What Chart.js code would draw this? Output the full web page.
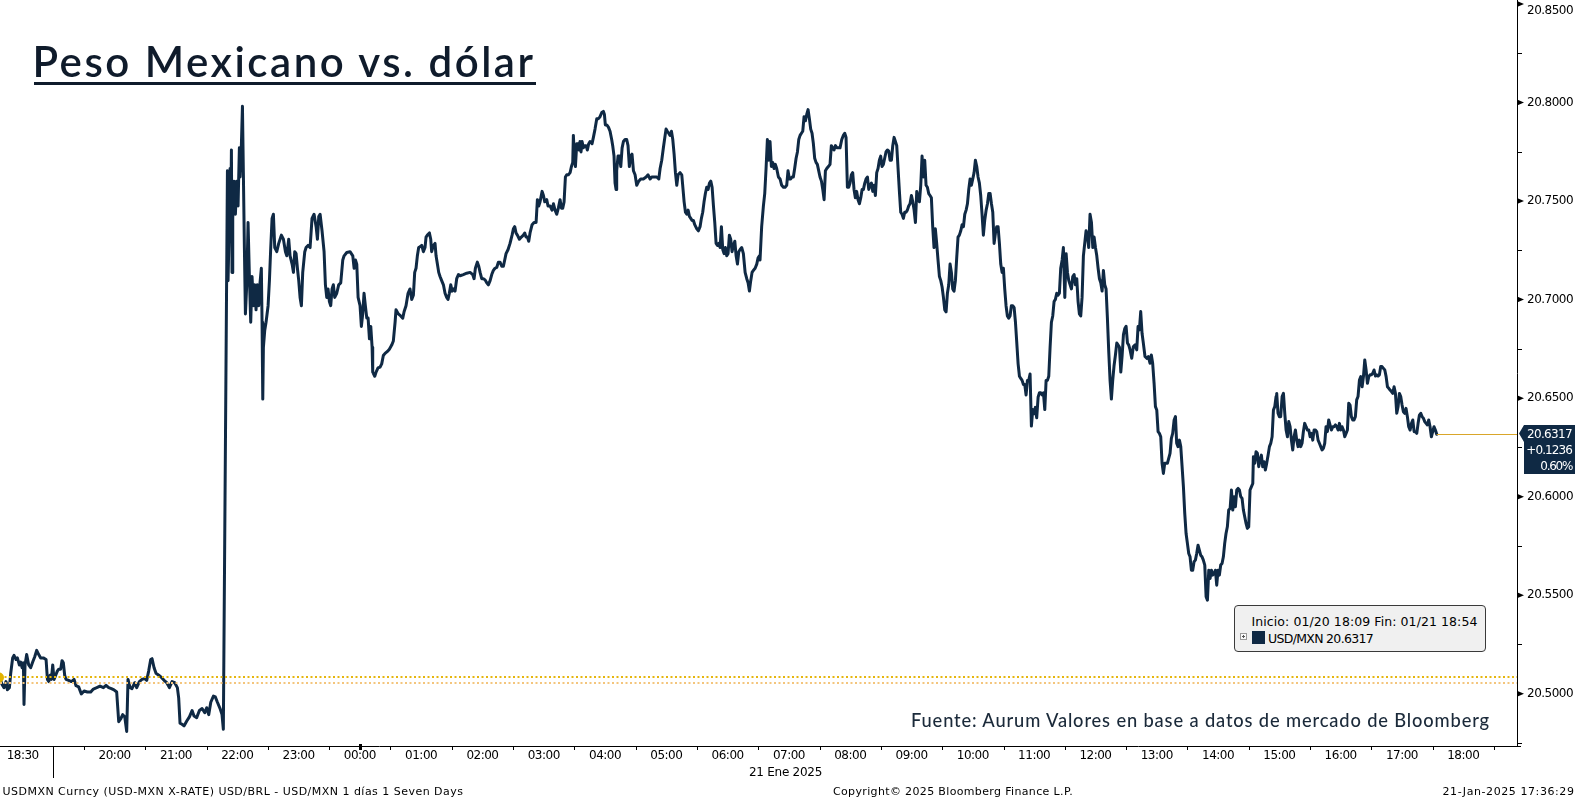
<!DOCTYPE html>
<html>
<head>
<meta charset="utf-8">
<title>Peso Mexicano vs. dólar</title>
<script src="https://cdn.jsdelivr.net/npm/chart.js@4.4.1/dist/chart.umd.min.js"></script>
<style>
html,body{margin:0;padding:0;background:#fff;overflow:hidden;}
#wrap{position:relative;width:1576px;height:798px;background:#fff;}
#c{position:absolute;left:0;top:0;}
.t{position:absolute;white-space:nowrap;line-height:1;margin:0;padding:0;}
#title{font-family:"Lato","Noto Sans",sans-serif;font-weight:600;font-size:42px;color:#0f1b2b;}
#uline{position:absolute;left:34px;top:81.5px;width:502px;height:3px;background:#0f1b2b;}
#fuente{font-family:"Lato","Noto Sans",sans-serif;font-weight:500;font-size:18.3px;color:#1b2a3a;}
.bb{font-family:"DejaVu Sans","Liberation Sans",sans-serif;color:#000;}
#legend{position:absolute;left:1234px;top:605px;width:250px;height:45px;border:1px solid #3a3a3a;border-radius:4px;background:#f0f0f0;}
#lgplus{position:absolute;left:1240px;top:633px;width:5px;height:5px;border:1px solid #9a9a9a;background:#fafafa;}
#lgplus:before{content:"";position:absolute;left:1px;top:2px;width:3px;height:1px;background:#555;}
#lgplus:after{content:"";position:absolute;left:2px;top:1px;width:1px;height:3px;background:#555;}
#lgsq{position:absolute;left:1252px;top:631px;width:13px;height:13px;background:#0f2944;}
#pricebox{position:absolute;left:1519px;width:56px;height:49px;background:#0f2944;
  clip-path:polygon(5px 0,56px 0,56px 49px,5px 49px,5px 17px,0 8.5px);}
.pl{color:#fff;}
</style>
</head>
<body>
<div id="wrap">
  <canvas id="c" width="1576" height="798"></canvas>
  <div id="title" class="t">Peso Mexicano vs. dólar</div>
  <div id="uline"></div>
  <div id="fuente" class="t">Fuente: Aurum Valores en base a datos de mercado de Bloomberg</div>
  <div id="legend"></div>
  <div id="lg1" class="t bb" style="font-size:12.5px">Inicio: 01/20 18:09 Fin: 01/21 18:54</div>
  <div id="lgplus"></div>
  <div id="lgsq"></div>
  <div id="lg2" class="t bb" style="font-size:12.5px"></div>
  <div id="pricebox"></div>
  <div id="p1" class="t bb pl" style="font-size:12px"></div>
  <div id="p2" class="t bb pl" style="font-size:12px"></div>
  <div id="p3" class="t bb pl" style="font-size:12px"></div>
  <div id="date2" class="t bb" style="font-size:12px">21 Ene 2025</div>
  <div id="foot1" class="t bb" style="font-size:11px">USDMXN Curncy (USD-MXN X-RATE) USD/BRL - USD/MXN 1 días 1 Seven Days</div>
  <div id="foot2" class="t bb" style="font-size:11px">Copyright© 2025 Bloomberg Finance L.P.</div>
  <div id="foot3" class="t bb" style="font-size:11px">21-Jan-2025 17:36:29</div>
</div>
<script>
// ---------------- DATA ----------------
// Time axis: minutes after 18:00 on 20 Jan 2025 (1440 = 18:00 on 21 Jan)
const times = [
7.8,9.8,11.7,13.7,15.0,17.0,18.3,20.2,21.5,23.5,
24.8,26.8,28.1,29.4,30.7,31.3,32.3,33.9,35.9,37.8,
39.8,41.8,43.7,45.7,47.6,50.2,52.9,54.2,55.5,56.8,
58.1,59.4,60.7,62.6,63.9,65.3,67.2,68.5,69.8,71.1,
72.4,75.0,77.7,80.3,82.2,84.8,87.4,90.1,93.3,96.6,
99.2,102.5,105.7,109.0,111.6,114.2,116.8,119.4,122.0,124.0,
125.9,127.9,129.9,131.8,133.1,135.1,137.0,139.7,141.6,144.2,
146.8,149.4,151.4,153.3,155.3,156.6,158.6,160.5,163.2,165.8,
168.4,171.0,173.6,176.2,178.8,181.4,182.7,184.0,186.0,187.9,
190.6,193.2,195.8,197.7,200.3,203.0,205.6,208.2,210.1,212.1,
214.1,216.7,218.6,220.6,223.2,225.1,226.4,
230.4,231.0,232.3,233.0,233.6,234.3,234.9,235.6,236.9,238.2,
239.5,240.8,242.1,242.8,244.1,245.1,246.0,247.0,248.0,249.3,
250.6,251.9,253.2,254.5,255.8,257.1,258.4,259.7,261.0,262.3,
263.6,264.3,265.0,265.6,266.9,268.2,270.2,271.5,272.8,274.1,
275.4,276.7,278.7,280.6,283.2,285.2,287.2,288.5,290.4,291.7,
293.7,295.0,296.3,297.6,298.9,300.2,301.5,302.8,304.1,306.1,
307.4,309.3,311.3,313.2,315.2,317.2,318.5,319.8,321.1,323.0,
325.0,326.3,327.6,328.9,330.2,331.5,332.8,334.1,335.4,337.4,
339.3,341.3,343.3,344.6,347.2,350.4,353.1,354.4,355.7,357.0,
358.3,360.2,361.5,362.8,364.1,365.4,366.8,368.1,369.4,370.7,
372.0,372.6,374.6,375.9,377.8,
379.8,381.4,383.0,384.7,387.0,388.9,391.2,392.8,394.5,395.4,
397.7,400.0,402.0,403.3,405.2,407.2,409.1,410.8,412.4,413.7,
415.0,416.3,417.6,418.9,420.6,422.2,423.8,424.8,426.1,428.1,
429.4,430.3,432.0,433.6,434.6,435.9,437.2,438.5,440.1,441.8,
443.4,445.0,446.3,447.6,449.0,450.3,451.6,453.2,454.8,456.5,
458.1,461.3,464.6,467.9,470.5,471.8,473.1,475.0,476.4,477.7,
479.3,480.9,482.6,484.2,485.8,487.5,489.1,490.7,492.3,494.0,
495.6,497.2,498.9,500.5,501.8,503.1,505.1,507.0,509.0,510.3,
511.6,512.9,514.2,516.2,518.1,520.1,521.4,522.7,524.0,525.3,
526.6,528.6,530.5,532.5,533.8,535.1,536.4,538.4,539.7,541.0,
542.9,544.2,546.2,548.1,549.5,551.1,552.7,554.3,556.0,557.3,
558.6,559.9,561.2,562.5,564.1,565.8,567.1,568.4,569.0,570.0,
571.0,572.3,573.6,574.6,575.5,576.5,577.5,578.8,580.1,581.4,
582.7,584.0,585.3,587.3,588.6,590.2,591.9,593.5,595.1,596.8,
598.4,599.4,600.3,601.7,603.3,604.9,606.5,607.5,608.8,609.8,
610.8,611.4,612.7,614.1,615.4,616.7,618.0,619.6,621.2,622.5,
623.8,625.1,626.4,627.8,629.4,631.0,633.0,634.9,637.5,640.2,
642.1,644.1,645.7,648.0,650.6,652.6,653.9,655.5,657.1,658.8,
659.7,661.0,662.3,663.6,665.0,666.3,667.6,668.9,670.2,671.5,
673.4,675.1,676.0,677.4,678.7,680.0,681.3,682.6,683.9,685.2,
686.5,687.8,689.8,691.4,693.0,694.3,695.6,696.9,698.2,699.5,
700.9,702.2,703.5,704.8,706.1,707.4,708.7,710.0,711.3,712.6,
713.9,715.2,716.5,717.8,719.1,720.4,721.7,723.0,724.3,725.6,
727.0,728.3,729.6,730.9,732.2,733.8,735.4,737.1,738.7,740.0,
741.3,742.6,743.9,745.2,746.9,748.5,749.8,751.1,
751.7,753.3,755.0,756.3,757.6,758.9,760.2,761.5,762.8,764.1,
765.4,766.7,768.0,769.7,771.3,772.9,774.6,776.2,777.8,779.1,
780.4,781.7,783.0,784.3,785.6,787.0,788.3,789.6,790.9,792.2,
793.5,794.8,796.1,797.4,798.7,800.0,801.3,802.6,803.9,805.2,
806.5,807.8,809.1,810.4,811.8,813.1,814.4,815.7,817.0,818.6,
820.2,821.5,822.8,824.1,825.5,826.8,828.4,830.0,831.7,833.3,
834.6,835.9,837.2,838.5,839.8,841.1,842.4,843.7,845.0,846.3,
847.6,849.0,850.3,851.6,852.9,854.2,855.5,856.8,858.1,859.4,
860.7,862.0,863.3,864.6,865.9,867.2,868.5,869.8,871.1,872.4,
873.7,875.0,876.4,877.7,879.0,880.3,881.6,882.9,884.2,885.5,
886.8,888.1,889.4,890.7,892.0,893.3,894.6,895.9,897.2,898.5,
899.9,901.2,902.5,903.8,905.1,906.4,907.7,909.0,910.3,911.6,
912.9,914.2,915.5,916.8,918.1,919.4,920.7,922.0,923.3,924.6,
925.9,927.3,928.6,929.9,931.2,932.5,933.8,935.1,936.4,937.7,
939.0,940.3,941.6,942.9,944.2,945.5,946.8,948.2,949.5,950.8,
952.1,953.4,954.7,956.0,957.3,958.6,959.9,961.2,962.5,963.8,
965.1,966.4,967.7,969.0,970.3,971.6,973.0,974.3,975.6,976.9,
978.2,979.5,980.8,982.1,983.4,984.7,986.0,987.3,988.6,989.9,
991.2,992.5,993.8,995.1,996.4,997.7,999.0,1000.4,1001.7,1003.0,
1004.3,1005.6,1006.9,1008.2,1009.5,1010.8,1012.1,1013.4,1014.7,1016.0,
1017.3,1018.6,1019.9,1021.2,1022.5,1023.9,1025.2,1026.5,1027.8,1029.1,
1030.4,1031.7,1033.0,1034.3,1035.6,1036.9,1038.2,1039.5,1040.8,1042.1,
1043.4,1044.7,1046.0,1047.4,1048.6,1050.0,1051.3,1052.6,1053.9,1055.2,
1056.5,1057.8,1059.1,1060.4,1061.7,1063.0,1064.3,1065.6,1066.9,1068.2,
1069.5,1070.8,1072.1,1073.4,1074.7,1076.1,1077.4,1078.7,1080.0,1081.3,
1082.6,1083.9,1085.2,1086.5,1087.8,1089.1,1090.4,1091.7,1093.0,1094.3,
1095.6,1096.9,1098.2,1099.5,1100.9,1102.2,1103.5,1104.8,1106.1,1107.4,
1108.7,1110.0,1111.3,1112.6,
1113.9,1115.5,1117.1,1118.8,1120.4,1121.7,1123.0,1124.3,1125.6,1126.9,
1128.5,1130.2,1131.8,1133.4,1134.7,1136.0,1137.4,1138.7,1140.0,1141.3,
1142.6,1143.9,1145.2,1146.5,1147.8,1149.1,1150.4,1151.7,1153.0,1154.3,
1155.6,1157.0,1158.3,1159.5,1160.8,1162.2,1163.5,1164.8,1166.1,1167.4,
1168.7,1170.0,1171.3,1172.6,1173.9,1175.2,1176.5,1177.8,1179.1,1180.4,
1181.7,1183.0,1184.3,1185.6,1187.0,1188.3,1189.6,1190.9,1192.2,1193.5,
1194.8,1196.1,1197.4,1198.7,1200.0,1201.3,1202.6,1203.9,1205.2,1206.5,
1207.8,1209.1,1210.4,1211.8,1213.1,1214.4,1215.7,1217.0,1218.3,1219.6,
1220.9,1222.2,1223.5,1224.8,1226.1,1227.4,1228.7,1230.0,1231.3,1232.6,
1234.0,1234.6,1235.9,1237.2,1238.5,1239.8,1241.1,1242.4,1243.7,1245.0,
1246.3,1247.6,1249.0,1250.3,1251.6,1252.9,1254.2,1255.5,1256.8,1257.4,
1258.7,1260.0,1261.3,1262.7,1264.0,1265.3,1266.6,1267.9,1269.2,1270.5,
1271.8,1273.1,1274.4,1275.7,1277.0,1278.3,1279.6,1280.9,1282.2,1283.5,
1284.8,1286.1,1287.5,1288.8,1290.1,1291.4,1292.7,1294.0,1295.3,1296.6,
1297.9,1299.2,1300.5,1301.8,1303.1,1304.4,1305.7,1307.0,1308.3,1309.6,
1311.0,1312.3,1313.6,1314.9,1316.2,1317.5,1318.8,1320.1,1321.4,1322.7,
1324.0,1325.3,1326.6,1327.9,1329.2,1330.5,1331.8,1333.1,1334.4,1335.7,
1337.0,1338.4,1339.7,1341.0,1342.3,1343.6,1344.9,1346.2,1347.5,1348.8,
1350.1,1351.4,1352.7,1354.0,1355.3,1356.6,1357.9,1359.2,1360.5,1361.9,
1363.2,1364.5,1365.8,1367.1,1368.4,1369.7,1371.0,1372.3,1373.6,1374.9,
1376.2,1377.5,1378.8,1380.1,1381.4,1382.7,1384.0,1385.3,1386.6,1388.0,
1389.3,1390.6,1391.9,1393.2,1394.5,1395.8,1397.1,1398.4,1399.7,1401.0,
1402.3,1403.6,1404.9,1406.2,1407.5,1408.8,1410.1,1411.4,1412.7,1414.0
];

// USD/MXN exchange rate
const usdmxn = [
20.5077,20.5047,20.5031,20.5062,20.5020,20.5031,20.5104,20.5182,20.5195,20.5174,
20.5182,20.5146,20.5161,20.5132,20.5157,20.4946,20.5146,20.5199,20.5146,20.5132,
20.5161,20.5188,20.5220,20.5199,20.5182,20.5182,20.5174,20.5073,20.5062,20.5094,
20.5073,20.5146,20.5073,20.5098,20.5115,20.5125,20.5125,20.5168,20.5157,20.5094,
20.5073,20.5068,20.5062,20.5073,20.5041,20.5035,20.4999,20.5014,20.5009,20.5009,
20.5024,20.5031,20.5039,20.5031,20.5043,20.5031,20.5026,20.5020,20.5009,20.4858,
20.4872,20.4894,20.4883,20.4809,20.5073,20.5031,20.5026,20.5056,20.5031,20.5062,
20.5073,20.5077,20.5068,20.5115,20.5174,20.5178,20.5132,20.5104,20.5094,20.5083,
20.5068,20.5056,20.5031,20.5062,20.5056,20.5031,20.4978,20.4851,20.4845,20.4837,
20.4862,20.4883,20.4915,20.4887,20.4879,20.4915,20.4925,20.4904,20.4929,20.4894,
20.4957,20.4988,20.4984,20.4957,20.4925,20.4894,20.4820,
20.7654,20.7096,20.7412,20.7665,20.7391,20.7759,20.7138,20.7412,20.7601,20.7433,
20.7601,20.7475,20.7770,20.7622,20.7791,20.7981,20.7644,20.7264,20.6927,20.7075,
20.7391,20.7117,20.6885,20.7117,20.6969,20.7075,20.6948,20.7075,20.6969,20.7085,
20.7159,20.6885,20.6495,20.6758,20.6843,20.6885,20.6969,20.7096,20.7264,20.7412,
20.7433,20.7264,20.7243,20.7285,20.7327,20.7306,20.7243,20.7222,20.7306,20.7222,
20.7180,20.7138,20.7243,20.7233,20.7159,20.7096,20.7011,20.6969,20.7138,20.7243,
20.7264,20.7275,20.7264,20.7412,20.7433,20.7370,20.7306,20.7422,20.7433,20.7349,
20.7243,20.7075,20.7011,20.7054,20.6990,20.6969,20.7054,20.7075,20.7011,20.7032,
20.7075,20.7085,20.7201,20.7222,20.7239,20.7243,20.7222,20.7159,20.7201,20.7180,
20.7011,20.6969,20.6864,20.6927,20.7032,20.6969,20.6906,20.6906,20.6801,20.6864,
20.6758,20.6632,20.6611,20.6632,20.6653,
20.6657,20.6674,20.6716,20.6727,20.6737,20.6748,20.6769,20.6790,20.6885,20.6948,
20.6927,20.6917,20.6906,20.6938,20.6969,20.7032,20.7054,20.7001,20.7022,20.7138,
20.7159,20.7222,20.7264,20.7268,20.7275,20.7243,20.7264,20.7317,20.7327,20.7338,
20.7306,20.7243,20.7275,20.7285,20.7222,20.7180,20.7138,20.7117,20.7096,20.7075,
20.7032,20.7011,20.7001,20.7032,20.7075,20.7043,20.7054,20.7043,20.7106,20.7127,
20.7121,20.7127,20.7134,20.7138,20.7127,20.7106,20.7159,20.7190,20.7169,20.7138,
20.7106,20.7106,20.7100,20.7085,20.7075,20.7096,20.7127,20.7148,20.7159,20.7163,
20.7190,20.7190,20.7169,20.7169,20.7201,20.7233,20.7254,20.7285,20.7327,20.7359,
20.7370,20.7338,20.7327,20.7306,20.7317,20.7327,20.7338,20.7317,20.7317,20.7296,
20.7338,20.7380,20.7391,20.7391,20.7507,20.7475,20.7496,20.7549,20.7528,20.7496,
20.7507,20.7475,20.7475,20.7454,20.7486,20.7454,20.7433,20.7464,20.7507,20.7464,
20.7464,20.7496,20.7622,20.7633,20.7633,20.7644,20.7675,20.7696,20.7833,20.7717,
20.7675,20.7791,20.7791,20.7759,20.7802,20.7749,20.7802,20.7770,20.7781,20.7781,
20.7759,20.7791,20.7802,20.7791,20.7823,20.7865,20.7918,20.7918,20.7928,20.7949,
20.7955,20.7939,20.7886,20.7886,20.7875,20.7854,20.7812,20.7781,20.7728,20.7591,
20.7559,20.7654,20.7728,20.7728,20.7675,20.7770,20.7802,20.7812,20.7812,20.7781,
20.7675,20.7728,20.7738,20.7654,20.7633,20.7580,20.7601,20.7612,20.7612,20.7622,
20.7633,20.7612,20.7622,20.7622,20.7622,20.7612,20.7665,20.7707,20.7770,20.7833,
20.7865,20.7854,20.7844,20.7833,20.7854,20.7812,20.7738,20.7644,20.7580,20.7633,
20.7644,20.7633,20.7580,20.7496,20.7443,20.7433,20.7454,20.7422,20.7412,20.7401,
20.7401,20.7380,20.7359,20.7349,20.7370,20.7412,20.7443,20.7496,20.7538,20.7570,
20.7559,20.7591,20.7601,20.7570,20.7475,20.7391,20.7285,20.7275,20.7285,20.7264,
20.7370,20.7254,20.7233,20.7264,20.7222,20.7233,20.7327,20.7306,20.7243,20.7275,
20.7296,20.7222,20.7180,20.7243,20.7254,20.7264,20.7233,20.7138,20.7106,20.7085,
20.7043,20.7096,20.7138,20.7148,20.7159,20.7180,20.7212,20.7222,
20.7201,20.7370,20.7475,20.7538,20.7665,20.7812,20.7707,20.7802,20.7675,20.7696,
20.7665,20.7686,20.7665,20.7622,20.7612,20.7580,20.7570,20.7570,20.7580,20.7654,
20.7612,20.7612,20.7622,20.7622,20.7665,20.7717,20.7749,20.7812,20.7833,20.7844,
20.7854,20.7928,20.7907,20.7939,20.7964,20.7918,20.7865,20.7844,20.7791,20.7717,
20.7696,20.7686,20.7654,20.7622,20.7601,20.7559,20.7507,20.7654,20.7665,20.7675,
20.7686,20.7781,20.7770,20.7759,20.7781,20.7770,20.7770,20.7770,20.7812,20.7833,
20.7844,20.7823,20.7570,20.7570,20.7591,20.7633,20.7644,20.7559,20.7517,20.7549,
20.7507,20.7486,20.7517,20.7559,20.7559,20.7591,20.7612,20.7622,20.7559,20.7580,
20.7591,20.7549,20.7580,20.7528,20.7644,20.7665,20.7707,20.7728,20.7675,20.7686,
20.7717,20.7749,20.7759,20.7753,20.7707,20.7707,20.7781,20.7823,20.7802,20.7781,
20.7665,20.7549,20.7443,20.7433,20.7412,20.7443,20.7443,20.7454,20.7475,20.7486,
20.7528,20.7496,20.7454,20.7391,20.7549,20.7517,20.7496,20.7580,20.7728,20.7622,
20.7707,20.7580,20.7570,20.7538,20.7528,20.7517,20.7370,20.7264,20.7359,20.7285,
20.7201,20.7117,20.7096,20.7064,20.7011,20.6948,20.6938,20.7032,20.7075,20.7180,
20.7138,20.7054,20.7043,20.7096,20.7212,20.7317,20.7327,20.7349,20.7380,20.7370,
20.7433,20.7454,20.7486,20.7559,20.7612,20.7580,20.7612,20.7644,20.7707,20.7675,
20.7622,20.7591,20.7528,20.7433,20.7327,20.7401,20.7454,20.7486,20.7538,20.7538,
20.7486,20.7443,20.7285,20.7338,20.7370,20.7370,20.7285,20.7180,20.7138,20.7159,
20.7054,20.6969,20.6917,20.6906,20.6917,20.6969,20.6969,20.6959,20.6885,20.6780,
20.6674,20.6611,20.6600,20.6590,20.6569,20.6569,20.6516,20.6590,20.6590,20.6622,
20.6358,20.6442,20.6421,20.6453,20.6400,20.6506,20.6527,20.6527,20.6516,20.6527,
20.6442,20.6590,20.6590,20.6611,20.6758,20.6885,20.6917,20.6990,20.7001,20.7032,
20.7022,20.7032,20.7159,20.7201,20.7264,20.7011,20.7233,20.7138,20.7096,20.7075,
20.7054,20.7117,20.7127,20.7075,20.7106,20.6990,20.6927,20.6917,20.7011,20.7222,
20.7285,20.7349,20.7327,20.7264,20.7433,20.7391,20.7264,20.7317,20.7264,20.7222,
20.7159,20.7106,20.7085,20.7043,20.7148,20.7075,20.7054,20.6906,20.6737,20.6590,
20.6495,20.6590,20.6664,20.6716,20.6780,20.6769,20.6758,20.6632,20.6716,20.6822,
20.6853,20.6864,20.6780,20.6769,
20.6745,20.6702,20.6762,20.6770,20.6745,20.6863,20.6846,20.6939,20.6829,20.6778,
20.6711,20.6702,20.6711,20.6677,20.6719,20.6677,20.6575,20.6457,20.6440,20.6330,
20.6321,20.6304,20.6169,20.6118,20.6169,20.6169,20.6169,20.6194,20.6220,20.6296,
20.6321,20.6389,20.6406,20.6271,20.6254,20.6287,20.6254,20.6152,20.6050,20.5915,
20.5813,20.5763,20.5712,20.5695,20.5627,20.5627,20.5670,20.5678,20.5712,20.5754,
20.5729,20.5703,20.5695,20.5678,20.5653,20.5492,20.5475,20.5627,20.5585,20.5627,
20.5602,20.5610,20.5627,20.5551,20.5627,20.5602,20.5653,20.5661,20.5695,20.5763,
20.5813,20.5847,20.5932,20.5940,20.6034,20.5932,20.6000,20.5949,20.6034,20.6042,
20.6034,20.6000,20.5991,20.5932,20.5898,20.5864,20.5839,20.5847,20.6034,20.6050,
20.6067,20.6203,20.6169,20.6228,20.6220,20.6152,20.6186,20.6211,20.6152,20.6177,
20.6135,20.6169,20.6211,20.6254,20.6271,20.6304,20.6440,20.6457,20.6508,20.6524,
20.6423,20.6406,20.6406,20.6508,20.6524,20.6423,20.6338,20.6304,20.6381,20.6355,
20.6287,20.6237,20.6304,20.6338,20.6287,20.6254,20.6287,20.6254,20.6271,20.6330,
20.6372,20.6355,20.6338,20.6338,20.6304,20.6321,20.6287,20.6338,20.6338,20.6330,
20.6287,20.6271,20.6254,20.6237,20.6245,20.6271,20.6355,20.6330,20.6389,20.6364,
20.6338,20.6355,20.6355,20.6364,20.6355,20.6338,20.6372,20.6338,20.6355,20.6338,
20.6304,20.6321,20.6338,20.6474,20.6465,20.6406,20.6389,20.6389,20.6406,20.6491,
20.6508,20.6592,20.6609,20.6558,20.6609,20.6694,20.6643,20.6575,20.6609,20.6618,
20.6618,20.6626,20.6643,20.6612,20.6618,20.6612,20.6618,20.6660,20.6660,20.6651,
20.6643,20.6609,20.6558,20.6550,20.6541,20.6533,20.6524,20.6558,20.6524,20.6423,
20.6457,20.6524,20.6508,20.6465,20.6431,20.6423,20.6448,20.6406,20.6355,20.6338,
20.6372,20.6389,20.6330,20.6330,20.6321,20.6372,20.6414,20.6423,20.6406,20.6398,
20.6381,20.6372,20.6364,20.6389,20.6355,20.6304,20.6330,20.6355,20.6338,20.6317
];

// Axis ranges
const xRange = [7.8, 1492.6];          // 18:08 (20 Jan) .. 18:54 (21 Jan)
const yRange = [20.4735, 20.852];
// Tick positions and labels
const xTickMinutes = [30,120,180,240,300,360,420,480,540,600,660,720,780,840,900,960,1020,1080,1140,1200,1260,1320,1380,1440];
const xTickLabels  = ['18:30','20:00','21:00','22:00','23:00','00:00','01:00','02:00','03:00','04:00','05:00','06:00','07:00','08:00','09:00','10:00','11:00','12:00','13:00','14:00','15:00','16:00','17:00','18:00'];
const xMinorMinutes = [90,150,210,270,330,390,450,510,570,630,690,750,810,870,930,990,1050,1110,1170,1230,1290,1350,1410,1470];
const midnightMinute = 360;
const sessionBreakMinute = 60;
const yTickValues  = [20.50,20.55,20.60,20.65,20.70,20.75,20.80,20.85];
const yMinorValues = [20.475,20.525,20.575,20.625,20.675,20.725,20.775,20.825];
// Reference levels and last-price info
const refLevels = [20.5083, 20.5053];
const refColors = ['#e6b60e', '#f4c57c'];
const lastPrice = 20.6317, netChange = 0.1236, pctChange = 0.60;

const LINE_COLOR = '#0f2944';

// ---------------- CHART ----------------
const decor = {
  id: 'decor',
  beforeDraw(chart) {
    if ('letterSpacing' in chart.ctx) chart.ctx.letterSpacing = '-0.5px';
  },
  afterDatasetsDraw(chart) {
    const {ctx, chartArea: a, scales: {x, y}} = chart;
    ctx.save();
    refLevels.forEach((lv, i) => {
      const py = Math.round(y.getPixelForValue(lv));
      ctx.strokeStyle = refColors[i];
      ctx.lineWidth = 2;
      ctx.setLineDash([2, 2.5]);
      ctx.beginPath(); ctx.moveTo(a.left, py); ctx.lineTo(a.right, py); ctx.stroke();
    });
    ctx.setLineDash([]);
    const ly = Math.round(y.getPixelForValue(lastPrice)) + 0.5;
    const lx = x.getPixelForValue(times[times.length - 1]);
    ctx.strokeStyle = '#d9a62a'; ctx.lineWidth = 1;
    ctx.beginPath(); ctx.moveTo(lx, ly); ctx.lineTo(a.right, ly); ctx.stroke();
    ctx.fillStyle = '#e2b300';
    ctx.beginPath(); ctx.arc(a.left - 1, y.getPixelForValue(refLevels[0]), 5, 0, Math.PI * 2); ctx.fill();
    ctx.restore();
  },
  afterDraw(chart) {
    const {ctx, chartArea: a, scales: {x, y}} = chart;
    ctx.save();
    ctx.fillStyle = '#000'; ctx.strokeStyle = '#000'; ctx.lineWidth = 1;
    yTickValues.forEach(v => {
      const py = y.getPixelForValue(v);
      ctx.beginPath();
      ctx.moveTo(a.right, py - 3); ctx.lineTo(a.right + 7, py); ctx.lineTo(a.right, py + 3);
      ctx.closePath(); ctx.fill();
    });
    yMinorValues.forEach(v => {
      const py = Math.round(y.getPixelForValue(v)) + 0.5;
      ctx.beginPath(); ctx.moveTo(a.right, py); ctx.lineTo(a.right + 5, py); ctx.stroke();
    });
    xMinorMinutes.forEach(m => {
      const px = Math.round(x.getPixelForValue(m)) + 0.5;
      ctx.beginPath(); ctx.moveTo(px, a.bottom); ctx.lineTo(px, a.bottom + 4); ctx.stroke();
    });
    const mx = Math.round(x.getPixelForValue(midnightMinute));
    ctx.fillRect(mx - 1, a.bottom - 2, 3, 6);
    const sx = Math.round(x.getPixelForValue(sessionBreakMinute)) + 0.5;
    ctx.beginPath(); ctx.moveTo(sx, a.bottom); ctx.lineTo(sx, a.bottom + 32); ctx.stroke();
    ctx.beginPath(); ctx.moveTo(a.right, a.bottom + 0.5); ctx.lineTo(a.right + 4, a.bottom + 0.5); ctx.stroke();
    ctx.restore();
  }
};

const chart = new Chart(document.getElementById('c'), {
  type: 'line',
  data: {
    datasets: [{
      label: 'USD/MXN',
      data: times.map((t, i) => ({x: t, y: usdmxn[i]})),
      borderColor: LINE_COLOR,
      borderWidth: 3,
      pointRadius: 0,
      tension: 0,
      borderJoinStyle: 'round',
      borderCapStyle: 'round',
      fill: false
    }]
  },
  options: {
    responsive: false,
    animation: false,
    devicePixelRatio: 1,
    events: [],
    layout: {padding: 0},
    plugins: {legend: {display: false}, tooltip: {enabled: false}, title: {display: false}},
    scales: {
      x: {
        type: 'linear', position: 'bottom',
        min: xRange[0], max: xRange[1],
        grid: {display: false, drawTicks: false},
        border: {display: true, color: '#000', width: 1},
        afterBuildTicks: s => { s.ticks = xTickMinutes.map(v => ({value: v})); },
        ticks: {
          autoSkip: false, maxRotation: 0, minRotation: 0, padding: 3,
          color: '#000',
          font: {family: 'DejaVu Sans', size: 12},
          callback: v => { const i = xTickMinutes.indexOf(v); return i >= 0 ? xTickLabels[i] : ''; }
        },
        afterFit: s => { s.height = 52; s.paddingLeft = 0; s.paddingRight = 0; }
      },
      y: {
        type: 'linear', position: 'right',
        min: yRange[0], max: yRange[1],
        grid: {display: false, drawTicks: false},
        border: {display: true, color: '#000', width: 1},
        afterBuildTicks: s => { s.ticks = yTickValues.map(v => ({value: v})); },
        ticks: {
          autoSkip: false, padding: 10, color: '#000',
          font: {family: 'DejaVu Sans', size: 12},
          // the top label is pushed down one half line so it stays inside the canvas
          callback: v => v === yTickValues[yTickValues.length - 1] ? ['', Number(v).toFixed(4)] : Number(v).toFixed(4)
        },
        afterFit: s => { s.width = 59; s.paddingTop = 0; s.paddingBottom = 0; }
      }
    }
  },
  plugins: [decor]
});

// ---------------- HTML TEXT PLACEMENT ----------------
function fit(id, left, top, width) {
  const el = document.getElementById(id);
  el.style.left = left + 'px';
  el.style.top = top + 'px';
  if (width) {
    el.style.letterSpacing = '0px';
    const w = el.getBoundingClientRect().width;
    const n = el.textContent.length;
    el.style.letterSpacing = ((width - w) / n).toFixed(3) + 'px';
  }
}
document.getElementById('lg2').textContent = 'USD/MXN ' + lastPrice.toFixed(4);
document.getElementById('p1').textContent = lastPrice.toFixed(4);
document.getElementById('p2').textContent = (netChange >= 0 ? '+' : '') + netChange.toFixed(4);
document.getElementById('p3').textContent = pctChange.toFixed(2) + '%';

fit('title', 32.5, 39.5, 503);
fit('fuente', 911, 710.8, 579);
fit('lg1', 1251.5, 616.1, 226);
fit('lg2', 1268, 632.7, 105);
fit('date2', 749, 766, 73);
fit('foot1', 2.5, 785.7, 461);
fit('foot2', 833, 785.7, 240);
fit('foot3', 1442.5, 785.7, 132);

const ly = chart.scales.y.getPixelForValue(lastPrice);
document.getElementById('pricebox').style.top = (ly - 9.2) + 'px';
const pw = [45, 45.7, 31.7];
['p1', 'p2', 'p3'].forEach((id, i) => {
  const base = ly + 4 + i * 16.2;
  fit(id, 1572 - pw[i], base - 0.846 * 12, pw[i]);
});
</script>
</body>
</html>
